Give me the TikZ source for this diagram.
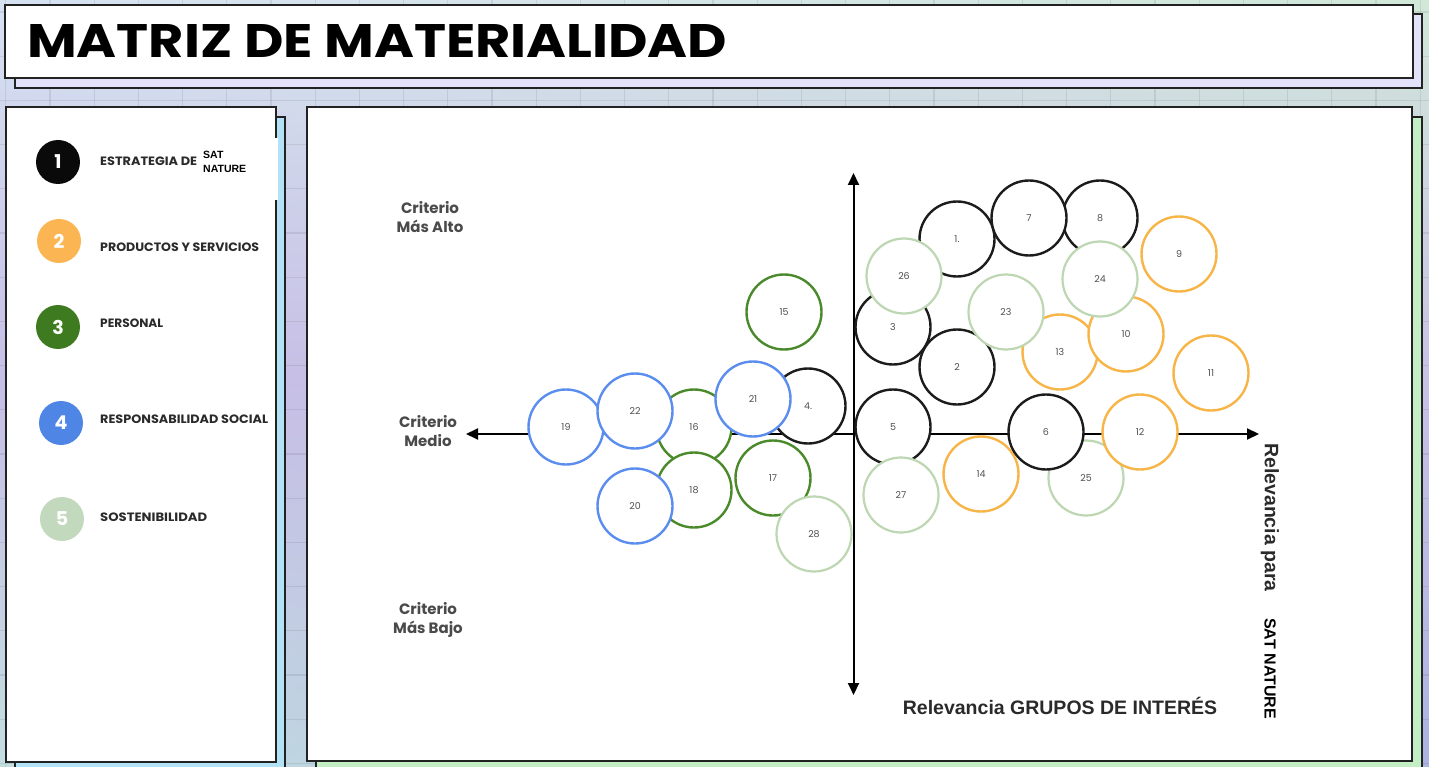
\documentclass[tikz,border=0pt]{standalone}
\usepackage{fontspec}
\usepackage{graphicx}
\usetikzlibrary{arrows.meta,shadings}
\newfontfamily\pop{Poppins}
\setsansfont{Liberation Sans}
\definecolor{numgray}{HTML}{505050}
\definecolor{labgray}{HTML}{4A4A4A}
\definecolor{txtdark}{HTML}{2A2A2A}
\definecolor{cblack}{HTML}{1C1C1C}
\definecolor{corange}{HTML}{F7B447}
\definecolor{cdgreen}{HTML}{4A8A2A}
\definecolor{cblue}{HTML}{5B8DEF}
\definecolor{clgreen}{HTML}{BCD7B2}
\definecolor{lblack}{HTML}{0A0A0A}
\definecolor{lorange}{HTML}{FBB552}
\definecolor{ldgreen}{HTML}{3E7A1F}
\definecolor{lblue}{HTML}{4F86E6}
\definecolor{llgreen}{HTML}{C3D9BD}
\definecolor{bgUL}{HTML}{D6E2F2}
\definecolor{bgUR}{HTML}{D1E8D9}
\definecolor{bgML}{HTML}{C6BEE6}
\definecolor{bgMR}{HTML}{C9C0E6}
\definecolor{bgLL}{HTML}{C4DEE0}
\definecolor{bgLR}{HTML}{ABB3E2}
\definecolor{titleshadow}{HTML}{E2E2FA}
\definecolor{legshadow}{HTML}{B3E2F7}
\definecolor{mainshadow}{HTML}{C4EFC4}
\definecolor{framecol}{HTML}{222222}
\tikzset{
  gridline/.style={black, opacity=0.08, line width=1.2pt},
  panel/.style={draw=framecol, line width=1.8pt},
  circ/.style={circle, minimum size=75pt, inner sep=0pt, fill=white, line width=2.4pt,
    font=\pop\fontsize{9.5}{10}\selectfont, text=numgray},
  kblack/.style={circ, draw=cblack},
  korange/.style={circ, draw=corange},
  kdgreen/.style={circ, draw=cdgreen},
  kblue/.style={circ, draw=cblue},
  klgreen/.style={circ, draw=clgreen, line width=2.2pt},
  legcirc/.style={circle, minimum size=44pt, inner sep=0pt, text=white,
    font=\pop\bfseries\fontsize{19}{19}\selectfont},
  legtext/.style={anchor=west, inner sep=0pt, text=txtdark},
  crit/.style={align=center, text=labgray, font=\pop\bfseries\fontsize{15}{19}\selectfont},
  axisline/.style={line width=2pt, black, arrows={-Triangle[length=12pt,width=11pt]}},
  rel/.style={text=txtdark, inner sep=0pt, font=\sffamily\bfseries\fontsize{19.5}{20}\selectfont}
}
\newcommand\legt[2]{\resizebox{#1}{8.6pt}{\pop\bfseries #2}}
\begin{document}
\begin{tikzpicture}[x=1pt,y=-1pt]
\useasboundingbox (0,0) rectangle (1429,767);
% background
\shade[upper left=bgUL, upper right=bgUR, lower left=bgML, lower right=bgMR] (0,0) rectangle (1429,384);
\shade[upper left=bgML, upper right=bgMR, lower left=bgLL, lower right=bgLR] (0,384) rectangle (1429,767);
\foreach \i in {-1,...,31} {\draw[gridline] ({50+44.2*\i},0) -- ({50+44.2*\i},767);}
\foreach \j in {0,...,17} {\draw[gridline] (0,{12+44.2*\j}) -- (1429,{12+44.2*\j});}
% title panel
\draw[panel, fill=titleshadow] (15,14) rectangle (1422,88);
\draw[panel, fill=white] (5,5) rectangle (1413,78);
\node[anchor=south west, inner sep=0pt] (title) at (27,58)
  {\resizebox{700pt}{33pt}{\pop\bfseries MATRIZ DE MATERIALIDAD}};
% legend panel
\draw[panel, fill=legshadow] (15,117) rectangle (285,780);
\draw[panel, fill=white] (6,107) rectangle (276,762);
\fill[white] (200,138) rectangle (277.5,200);
% main panel
\draw[panel, fill=mainshadow] (316,117) rectangle (1422,780);
\draw[panel, fill=white] (307,107) rectangle (1412,761);
% legend
\node[legcirc, fill=lblack] (l1) at (58,162) {1};
\node[legcirc, fill=lorange] (l2) at (59,241) {2};
\node[legcirc, fill=ldgreen] (l3) at (58,327) {3};
\node[legcirc, fill=lblue] (l4) at (61,423) {4};
\node[legcirc, fill=llgreen] (l5) at (62,519) {5};
\node[legtext] (t1) at (100,161) {\legt{97pt}{ESTRATEGIA DE}};
\node[anchor=north west, inner sep=0pt, align=left, text=black,
  font=\sffamily\bfseries\fontsize{10.5}{14}\selectfont] (t1b) at (203,151) {SAT\\NATURE};
\node[legtext] (t2) at (100,247) {\legt{159pt}{PRODUCTOS Y SERVICIOS}};
\node[legtext] (t3) at (100,323) {\legt{63pt}{PERSONAL}};
\node[legtext] (t4) at (100,419) {\legt{168pt}{RESPONSABILIDAD SOCIAL}};
\node[legtext] (t5) at (100,517) {\legt{107pt}{SOSTENIBILIDAD}};
% axes
\coordinate (o) at (853.5,434);
\coordinate (atop) at (853.5,173);
\coordinate (abot) at (853.5,695);
\coordinate (aleft) at (466,434);
\coordinate (aright) at (1259,434);
\draw[axisline] (o) -- (atop);
\draw[axisline] (o) -- (abot);
\draw[axisline] (o) -- (aleft);
\draw[axisline] (o) -- (aright);
% axis labels
\node[crit] (hi) at (430,217) {Criterio\\Más Alto};
\node[crit] (mid) at (428,431) {Criterio\\Medio};
\node[crit] (lo) at (428,620) {Criterio\\Más Bajo};
\node[rel, anchor=center] (xlab) at (1060,706) {Relevancia GRUPOS DE INTERÉS};
\node[rel, rotate=-90, anchor=west] (ylab) at (1270,443) {Relevancia para};
\node[rel, rotate=-90, anchor=west, text=black, font=\sffamily\bfseries\fontsize{16}{16}\selectfont] (ylab2) at (1270,618) {SAT NATURE};
% left cluster
\node[kblack] (c4) at (808,406) {4.};
\node[kdgreen] (c16) at (694,427) {16};
\node[kblue] (c19) at (566,427) {19};
\node[kblue] (c22) at (635,411) {22};
\node[kblue] (c21) at (753,399) {21};
\node[kdgreen] (c18) at (694,490) {18};
\node[kblue] (c20) at (635,506) {20};
\node[kdgreen] (c17) at (773,478) {17};
\node[klgreen] (c28) at (814,534) {28};
\node[kdgreen] (c15) at (784,312) {15};
% right cluster
\node[kblack] (c3) at (893,327) {3};
\node[kblack] (c2) at (957,367) {2};
\node[kblack] (c1) at (957,239) {1.};
\node[kblack] (c8) at (1100,218) {8};
\node[kblack] (c7) at (1029,218) {7};
\node[klgreen] (c26) at (904,276) {26};
\node[korange] (c13) at (1060,352) {13};
\node[korange] (c10) at (1126,334) {10};
\node[klgreen] (c24) at (1100,279) {24};
\node[klgreen] (c23) at (1006,312) {23};
\node[korange] (c9) at (1179,254) {9};
\node[korange] (c11) at (1211,373) {11};
\node[kblack] (c5) at (893,427) {5};
\node[klgreen] (c27) at (901,495) {27};
\node[klgreen] (c25) at (1086,478) {25};
\node[korange] (c14) at (981,474) {14};
\node[kblack] (c6) at (1046,432) {6};
\node[korange] (c12) at (1140,432) {12};
\end{tikzpicture}
\end{document}
